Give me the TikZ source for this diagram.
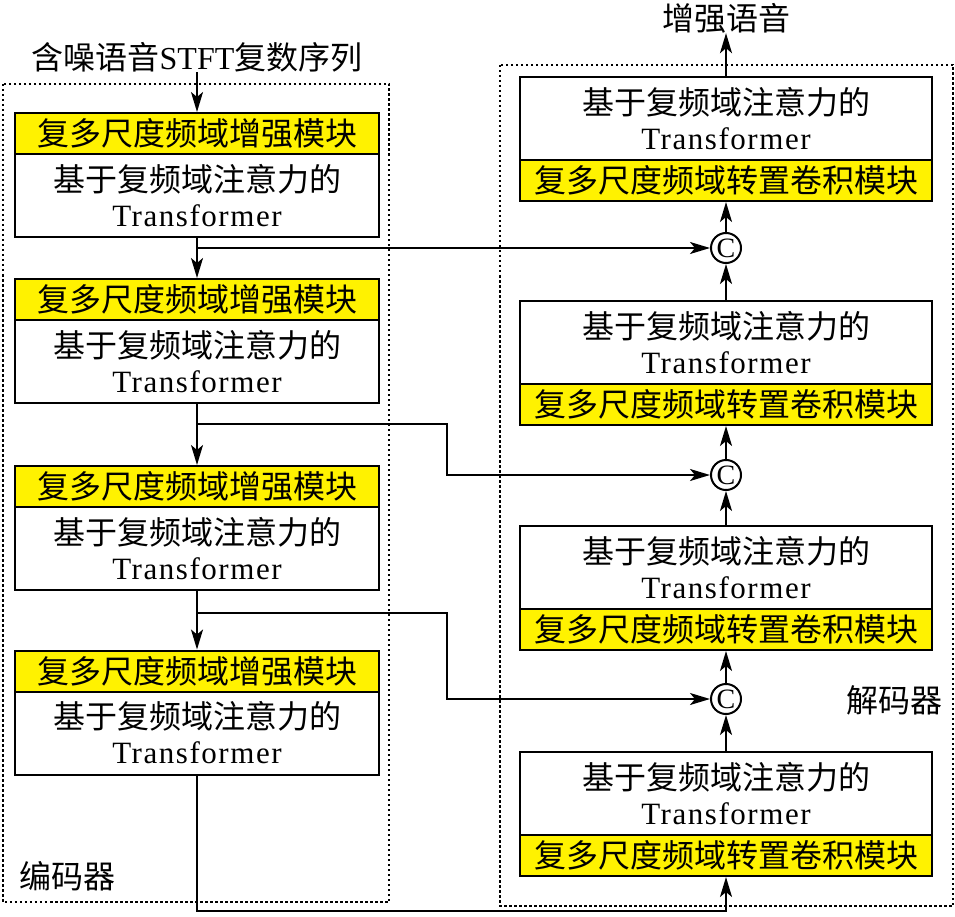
\documentclass[tikz,border=0pt]{standalone}
\usepackage{fontspec}
\setmainfont{Liberation Serif}
\newfontfamily\cjk{Noto Sans CJK SC}
\newfontfamily\tfont[LetterSpace=5]{Liberation Serif}
\usetikzlibrary{arrows.meta}
\tikzset{
  ybox/.style={draw, fill=yellow, line width=2pt, inner sep=0pt,
    minimum height=41pt, font=\cjk\fontsize{32}{36}\selectfont},
  wbox/.style={draw, fill=white, line width=2pt, inner sep=0pt,
    minimum height=83pt, align=center, font=\fontsize{32}{35}\selectfont},
  encw/.style={minimum width=364pt},
  decw/.style={minimum width=412pt},
  cat/.style={draw, circle, fill=white, line width=2pt, minimum size=30pt,
    inner sep=0pt, font=\fontsize{28}{28}\selectfont},
  lbl/.style={inner sep=0pt, font=\cjk\fontsize{32}{36}\selectfont},
  mixlbl/.style={inner sep=0pt, font=\fontsize{32}{36}\selectfont},
  arr/.style={line width=2pt, -{Stealth[length=20pt,width=12pt,inset=5pt]}},
  frame/.style={line width=1.6pt, dash pattern=on 2.5pt off 2.5pt},
}
\newcommand{\wtext}{{\cjk 基于复频域注意力的}\\{\tfont\fontsize{31}{35}\selectfont Transformer}}
\begin{document}
\begin{tikzpicture}[x=1pt,y=-1pt]
\useasboundingbox (0,0) rectangle (955,917);
% frames
\draw[frame] (3,84) rectangle (389,902);
\draw[frame] (500,65) rectangle (953,906);
% encoder
\node[mixlbl] (intext) at (197,57) {{\cjk 含噪语音}STFT{\cjk 复数序列}};
\node[ybox,encw] (e1y) at (197,133.5) {复多尺度频域增强模块};
\node[wbox,encw] (e1w) at (197,195.5) {\wtext};
\node[ybox,encw] (e2y) at (197,299.5) {复多尺度频域增强模块};
\node[wbox,encw] (e2w) at (197,361.5) {\wtext};
\node[ybox,encw] (e3y) at (197,486.5) {复多尺度频域增强模块};
\node[wbox,encw] (e3w) at (197,548.5) {\wtext};
\node[ybox,encw] (e4y) at (197,671) {复多尺度频域增强模块};
\node[wbox,encw] (e4w) at (197,733) {\wtext};
\node[lbl] (enc) at (67,876) {编码器};
% decoder
\node[lbl] (outtext) at (726,18) {增强语音};
\node[wbox,decw] (d1w) at (726,118.5) {\wtext};
\node[ybox,decw] (d1y) at (726,180.5) {复多尺度频域转置卷积模块};
\node[wbox,decw] (d2w) at (726,342.5) {\wtext};
\node[ybox,decw] (d2y) at (726,404.5) {复多尺度频域转置卷积模块};
\node[wbox,decw] (d3w) at (726,567.5) {\wtext};
\node[ybox,decw] (d3y) at (726,629.5) {复多尺度频域转置卷积模块};
\node[wbox,decw] (d4w) at (726,793.5) {\wtext};
\node[ybox,decw] (d4y) at (726,855.5) {复多尺度频域转置卷积模块};
\node[cat] (c1) at (726,248) {C};
\node[cat] (c2) at (726,475) {C};
\node[cat] (c3) at (726,699) {C};
\node[lbl] (dec) at (894,700) {解码器};
% coordinates
\coordinate (b2) at (197,424);
\coordinate (k2) at (447,424);
\coordinate (b3) at (197,613);
\coordinate (k3) at (447,613);
\coordinate (k4) at (197,911);
% connectors
\draw[arr] (intext.south) -- (e1y.north);
\draw[arr] (e1w.south) -- (e2y.north);
\draw[arr] (e1w.south |- c1.west) -- (c1.west);
\draw[arr] (e2w.south) -- (e3y.north);
\draw[arr] (b2) -- (k2) |- (c2.west);
\draw[arr] (e3w.south) -- (e4y.north);
\draw[arr] (b3) -- (k3) |- (c3.west);
\draw[arr] (e4w.south) -- (k4) -| (d4y.south);
\draw[arr] (d4w.north) -- (c3.south);
\draw[arr] (c3.north) -- (d3y.south);
\draw[arr] (d3w.north) -- (c2.south);
\draw[arr] (c2.north) -- (d2y.south);
\draw[arr] (d2w.north) -- (c1.south);
\draw[arr] (c1.north) -- (d1y.south);
\draw[arr] (d1w.north) -- (outtext.south);
\end{tikzpicture}
\end{document}
